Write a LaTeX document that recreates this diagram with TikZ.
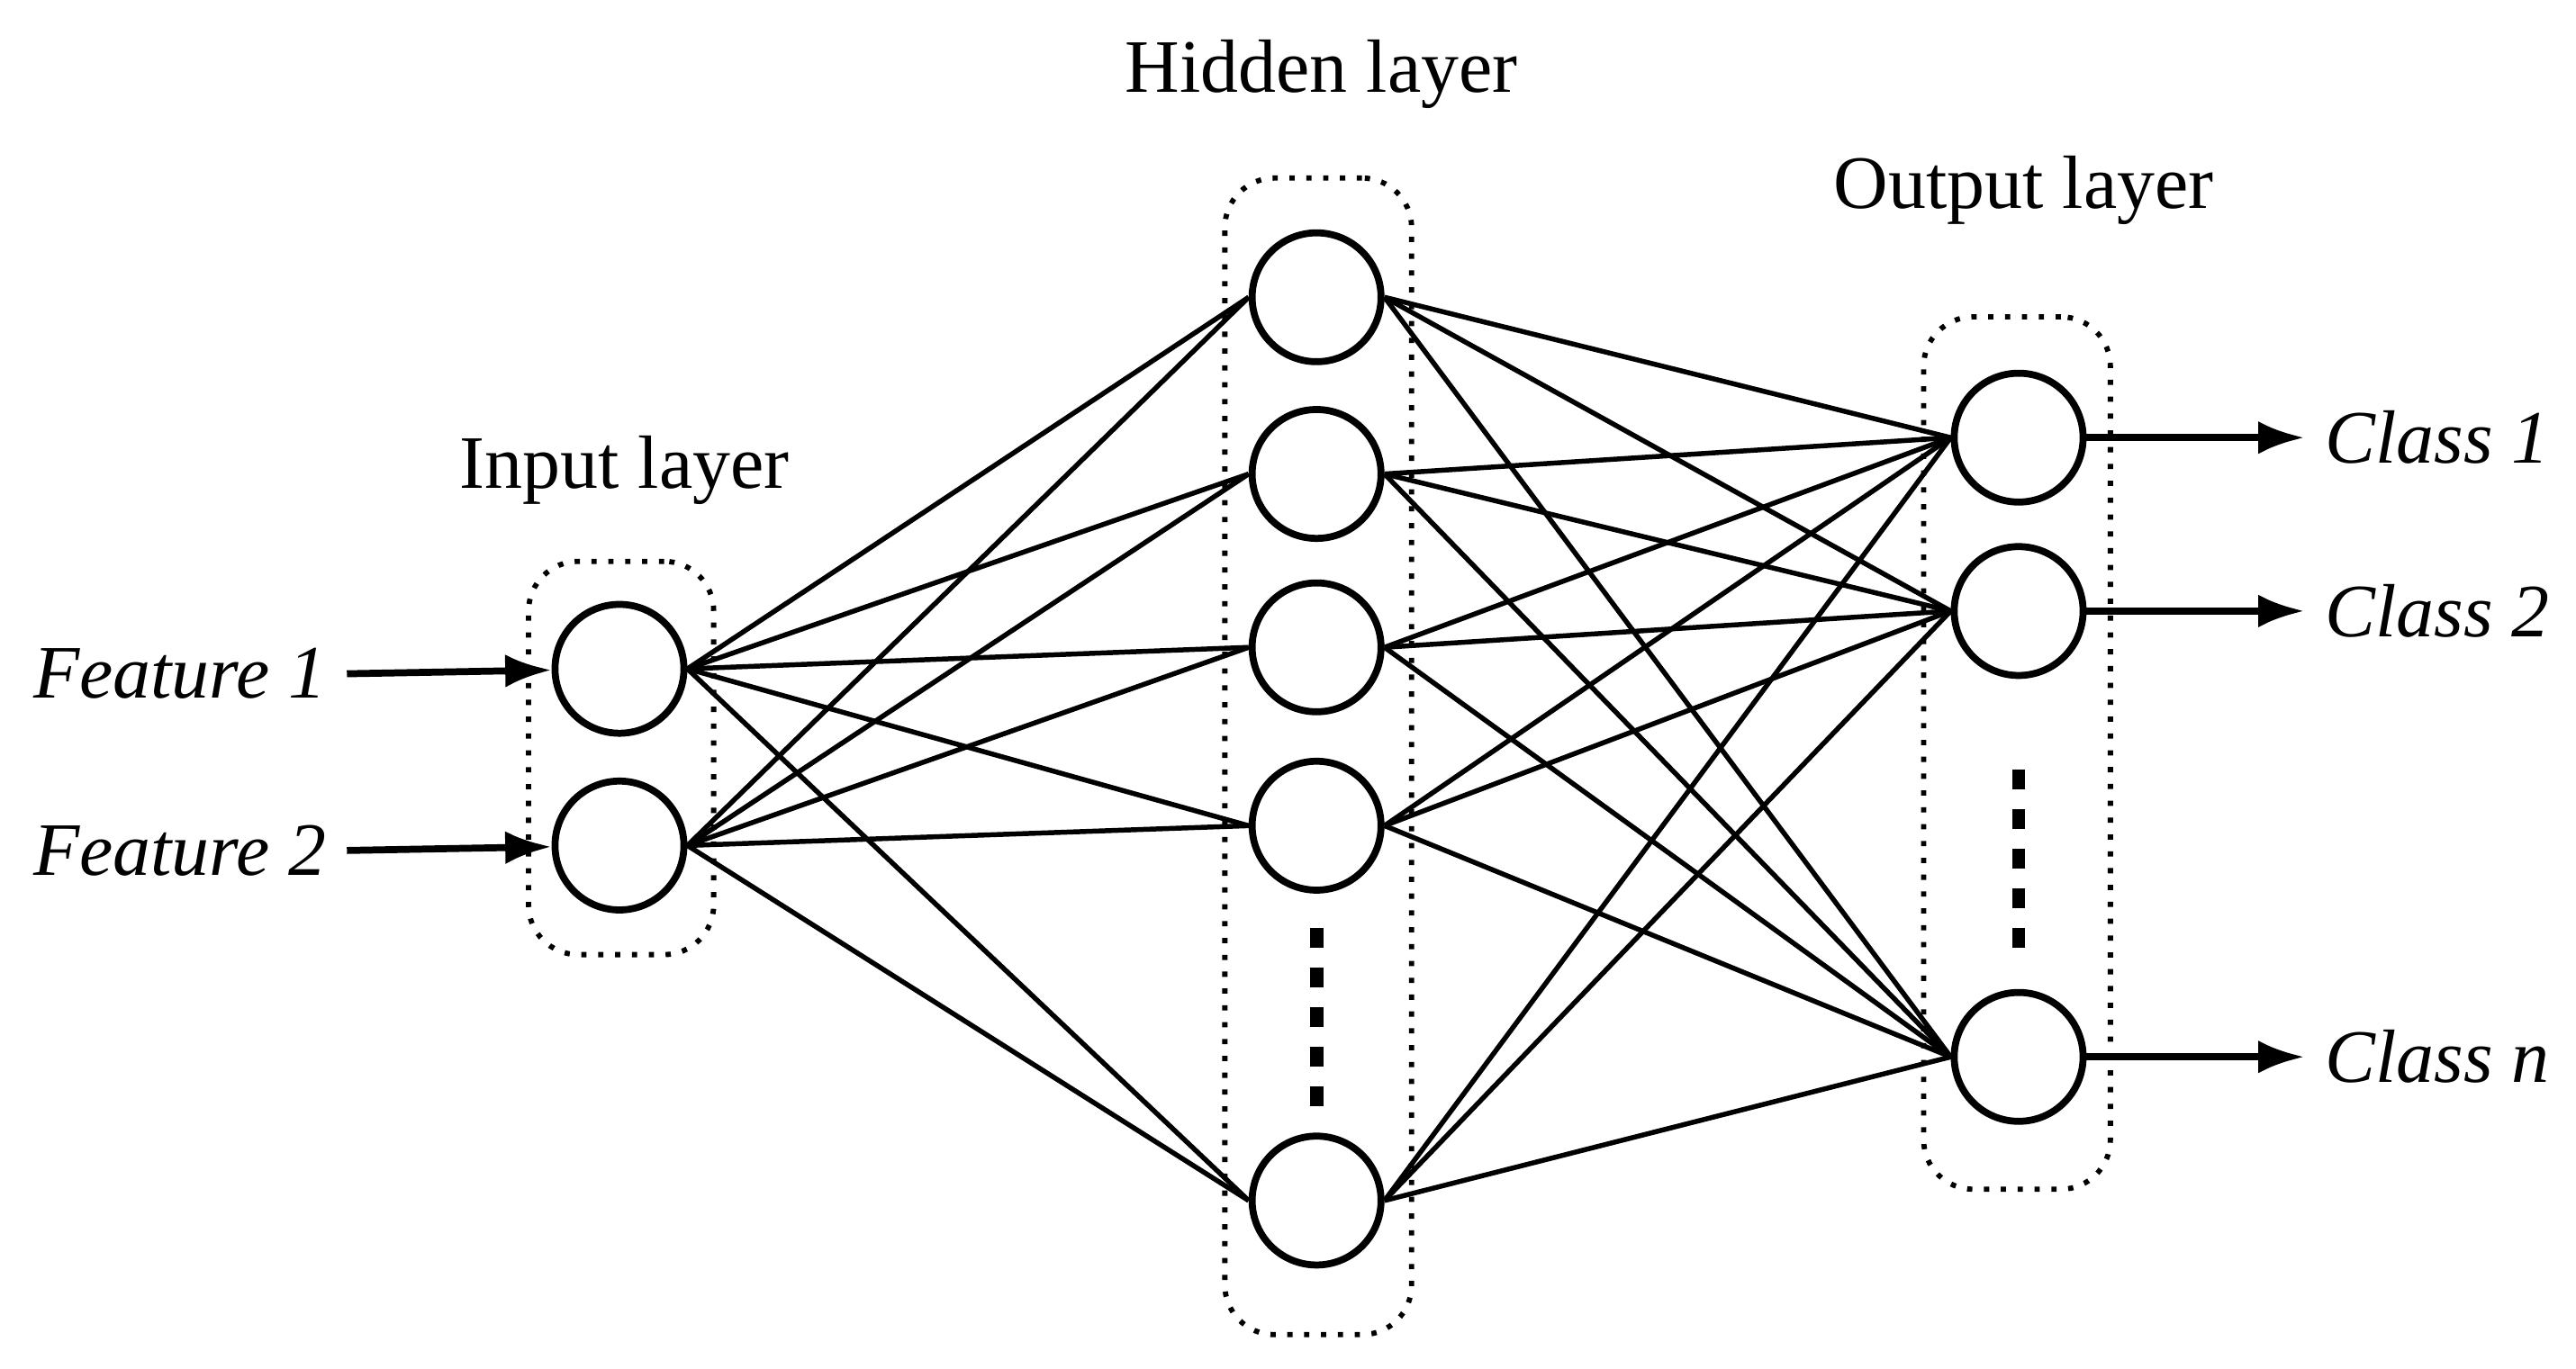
\documentclass[tikz,border=0pt]{standalone}
\usepackage{fontspec}
\setmainfont{Liberation Serif}
\usetikzlibrary{arrows.meta}
\begin{document}
\begin{tikzpicture}[x=0.01cm,y=-0.01cm,
 neuron/.style={circle,draw,line width=1.2pt,minimum size=0.78cm,inner sep=0pt},
 box/.style={draw,dotted,line width=0.9pt,rounded corners=0.3cm},
 conn/.style={line width=0.85pt},
 dot/.style={rectangle,fill,inner sep=0pt,minimum width=0.08cm,minimum height=0.12cm},
 io/.style={line width=1.2pt,-{Latex[length=0.28cm,width=0.2cm]}},
 lbl/.style={font=\fontsize{13}{15}\selectfont},
 ilbl/.style={font=\fontsize{13}{15}\selectfont\itshape}]
\useasboundingbox (0,0) rectangle (1559.4,829);
\node[box,minimum width=1.12cm,minimum height=2.38cm] (bi) at (376,459) {};
\node[box,minimum width=1.13cm,minimum height=7.0cm] (bh) at (798,458) {};
\node[box,minimum width=1.13cm,minimum height=5.28cm] (bo) at (1221,456) {};
\node[neuron] (i1) at (375,405) {};
\node[neuron] (i2) at (375,512) {};
\foreach \n/\y in {1/180,2/287,3/392,4/500,5/727} \node[neuron] (h\n) at (797,\y) {};
\foreach \n/\y in {1/265,2/370,3/640} \node[neuron] (o\n) at (1222,\y) {};
\foreach \y in {568,592,616,640,664} \node[dot] (hd\y) at (797,\y) {};
\foreach \y in {472,496,520,544,568} \node[dot] (od\y) at (1222,\y) {};
\foreach \i in {1,2} \foreach \h in {1,...,5} \draw[conn] (i\i.east) -- (h\h.west);
\foreach \h in {1,...,5} \foreach \o in {1,2,3} \draw[conn] (h\h.east) -- (o\o.west);
\node[lbl] (ti) at (378,285) {Input layer};
\node[lbl] (th) at (800,45) {Hidden layer};
\node[lbl] (to) at (1225,115) {Output layer};
\node[ilbl,anchor=east] (f1) at (210,408) {Feature 1};
\node[ilbl,anchor=east] (f2) at (210,515) {Feature 2};
\draw[io] (f1.east) -- (i1);
\draw[io] (f2.east) -- (i2);
\node[ilbl,anchor=west] (c1) at (1395,265) {Class 1};
\node[ilbl,anchor=west] (c2) at (1395,370) {Class 2};
\node[ilbl,anchor=west] (c3) at (1395,640) {Class \textit{n}};
\draw[io] (o1) -- (c1.west);
\draw[io] (o2) -- (c2.west);
\draw[io] (o3) -- (c3.west);
\end{tikzpicture}
\end{document}
